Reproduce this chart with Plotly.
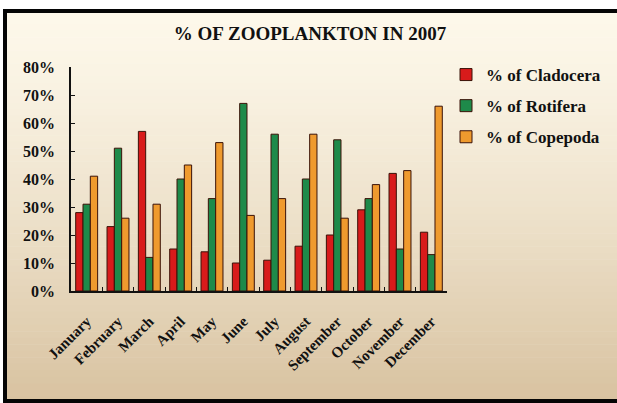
import plotly.graph_objects as go

months = ["January", "February", "March", "April", "May", "June", "July",
          "August", "September", "October", "November", "December"]
cladocera = [28, 23, 57, 15, 14, 10, 11, 16, 20, 29, 42, 21]
rotifera = [31, 51, 12, 40, 33, 67, 56, 40, 54, 33, 15, 13]
copepoda = [41, 26, 31, 45, 53, 27, 33, 56, 26, 38, 43, 66]
series_names = ["% of Cladocera", "% of Rotifera", "% of Copepoda"]
colors = ["#d81b1b", "#1e8a4a", "#ef9a2e"]

W, H = 617, 403
L, R, T, B = 71, 447, 67, 291
SERIF = "Liberation Serif, Times New Roman, DejaVu Serif, serif"

fig = go.Figure()
for name, vals, col in zip(series_names, [cladocera, rotifera, copepoda], colors):
    fig.add_trace(go.Bar(
        x=months, y=[v / 100 for v in vals], name=name, legendgroup=name,
        marker=dict(color=col, line=dict(color="#3a1208", width=1)),
    ))

def px_x(p):
    return (p - L) / (R - L)

def px_y(p):
    return (B - p) / (B - T)

shapes = []
# vertical gradient background
n = 60
top = (253, 248, 234)
bot = (216, 194, 160)
for i in range(n):
    f = i / (n - 1)
    f2 = f ** 1.3
    c = tuple(int(round(top[k] + (bot[k] - top[k]) * f2)) for k in range(3))
    y0 = 11 + (403 - 11) * i / n
    y1 = 11 + (403 - 11) * (i + 1) / n + 0.6
    shapes.append(dict(type="rect", xref="paper", yref="paper", layer="below",
                       x0=px_x(5), x1=px_x(617), y0=px_y(y1), y1=px_y(y0),
                       fillcolor="rgb(%d,%d,%d)" % c, line=dict(width=0)))
# frame
shapes.append(dict(type="rect", xref="paper", yref="paper", layer="above",
                   x0=px_x(5), x1=px_x(640), y0=px_y(401), y1=px_y(11),
                   fillcolor="rgba(0,0,0,0)", line=dict(color="#050505", width=4)))

fig.update_layout(
    width=W, height=H,
    margin=dict(l=L, r=W - R, t=T, b=H - B, pad=0, autoexpand=False),
    paper_bgcolor="white",
    plot_bgcolor="rgba(0,0,0,0)",
    barmode="group", bargap=0.3, bargroupgap=0,
    font=dict(family=SERIF, color="#111111"),
    title=dict(text="<b>% OF ZOOPLANKTON IN 2007</b>", x=310 / W, xanchor="center",
               y=1 - 33 / H, yanchor="middle",
               font=dict(family=SERIF, size=19, color="#111111")),
    showlegend=True,
    legend=dict(x=px_x(446), xanchor="left", y=px_y(57), yanchor="top",
                bgcolor="rgba(0,0,0,0)", tracegroupgap=6,
                font=dict(family=SERIF, size=17, color="#111111", weight="bold"),
                itemwidth=30),
    shapes=shapes,
    xaxis=dict(showline=True, linecolor="#111111", linewidth=1.5, automargin=False,
               ticks="inside", tickson="boundaries", ticklen=4, tickcolor="#111111",
               tickangle=-45, showgrid=False, ticklabelstandoff=14,
               tickfont=dict(family=SERIF, size=15, color="#111111", weight="bold")),
    yaxis=dict(range=[0, 0.8], dtick=0.1, tickformat=".0%", showline=True,
               linecolor="#111111", linewidth=1.5, ticks="inside", ticklen=4,
               tickcolor="#111111", showgrid=False, zeroline=False, automargin=False,
               ticklabelstandoff=11,
               tickfont=dict(family=SERIF, size=16, color="#111111", weight="bold")),
)

fig.write_html("out.html", config={"displayModeBar": False},
               post_script="document.body.style.margin='0';document.body.style.padding='0';")
